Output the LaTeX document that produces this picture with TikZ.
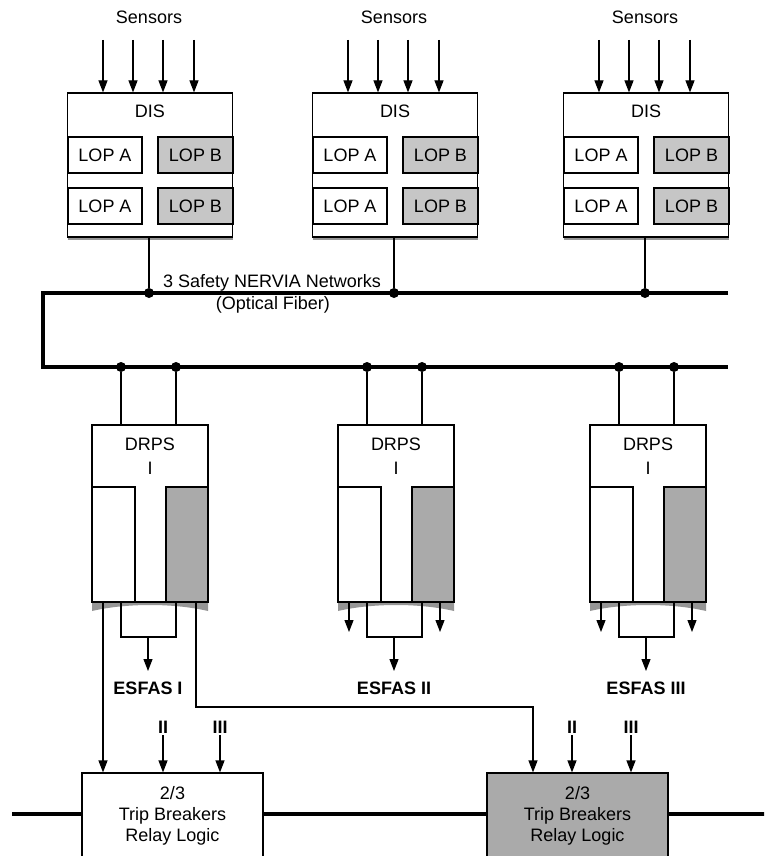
\documentclass[tikz,border=0pt]{standalone}
\usepackage{fontspec}
\setmainfont{Liberation Sans}
\usetikzlibrary{arrows.meta,calc,shadows}
\definecolor{lopgray}{RGB}{198,198,198}
\definecolor{midgray}{RGB}{170,170,170}
\definecolor{shadowgray}{RGB}{150,150,150}
\begin{document}
\begin{tikzpicture}[x=1pt,y=-1pt,
  font=\fontsize{18}{21}\selectfont,
  box/.style={draw, line width=1.2pt, fill=white, inner sep=0pt},
  disbox/.style={box, drop shadow={shadow xshift=0pt, shadow yshift=-2.5pt, fill=shadowgray, opacity=1}},
  lop/.style={box, minimum width=74pt, minimum height=36pt},
  bus/.style={line width=3.5pt},
  tbus/.style={line width=4.5pt},
  wire/.style={line width=1.2pt},
  arr/.style={wire, -{Triangle[length=12pt,width=9pt]}},
  dot/.style={circle, fill, inner sep=0pt, minimum size=10pt},
  lbl/.style={inner sep=2pt},
  blbl/.style={inner sep=2pt, font=\fontsize{18}{21}\selectfont\bfseries}
]
\clip (0,0) rectangle (764,856);
\fill[white] (0,0) rectangle (764,856);

% network buses
\coordinate (b1l) at (43,293);
\coordinate (b1r) at (728,293);
\coordinate (b2l) at (43,367);
\coordinate (b2r) at (728,367);
\draw[bus] (b1r) -- (b1l) -- (b2l) -- (b2r);
\node[lbl] (net1) at (272,283) {3 Safety NERVIA Networks};
\node[lbl] (net2) at (273,305) {(Optical Fiber)};

% DIS blocks
\foreach \n/\L in {1/67,2/312,3/563} {
  \node[lbl] (sens\n) at (\L+82,17) {Sensors};
  \node[disbox, minimum width=165pt, minimum height=144pt] (dis\n) at (\L+83,165) {};
  \node[lbl] (dislab\n) at (\L+83,111) {DIS};
  \node[lop] (laa\n) at (\L+38,155) {LOP A};
  \node[lop, fill=lopgray, minimum width=75pt] (lba\n) at (\L+128.5,155) {LOP B};
  \node[lop] (lab\n) at (\L+38,206) {LOP A};
  \node[lop, fill=lopgray, minimum width=75pt] (lbb\n) at (\L+128.5,206) {LOP B};
  \foreach \k/\dx in {1/36,2/66,3/96,4/127} {
    \coordinate (s\n\k) at (\L+\dx,40);
    \draw[arr] (s\n\k) -- (s\n\k |- dis\n.north);
  }
  \node[dot] (dn\n) at (\L+82,293) {};
  \draw[wire] (dis\n.south -| dn\n) -- (dn\n);
}

% DRPS blocks
\foreach \n/\L/\r in {1/92/I,2/338/II,3/590/III} {
  \fill[shadowgray] (\L,600) -- (\L+116,600) -- (\L+116,611) .. controls (\L+82,603) and (\L+34,603) .. (\L,611) -- cycle;
  \node[box, minimum width=116pt, minimum height=177pt] (drps\n) at (\L+58,513.5) {};
  \node[lbl] (drpslab\n) at (\L+58,444) {DRPS};
  \node[lbl] (drpsnum\n) at (\L+58,468) {I};
  \node[box, minimum width=43pt, minimum height=115pt] (dl\n) at (\L+21.5,544.5) {};
  \node[box, fill=midgray, minimum width=42pt, minimum height=115pt] (dr\n) at (\L+95,544.5) {};
  \node[dot] (da\n) at (\L+29,367) {};
  \node[dot] (db\n) at (\L+84,367) {};
  \draw[wire] (da\n) -- (da\n |- drps\n.north);
  \draw[wire] (db\n) -- (db\n |- drps\n.north);
  \coordinate (ba\n) at (\L+29,637);
  \coordinate (bb\n) at (\L+84,637);
  \draw[wire] (drps\n.south -| ba\n) -- (ba\n) -- (bb\n) -- (drps\n.south -| bb\n);
  \coordinate (bm\n) at (\L+56,637);
  \coordinate (et\n) at (\L+56,671);
  \draw[arr] (bm\n) -- (et\n);
  \node[blbl] (es\n) at (\L+56,688) {ESFAS \r};
}

% side outputs of DRPS II and III
\foreach \n/\L in {2/338,3/590} {
  \coordinate (ol\n) at (\L+11,632);
  \coordinate (or\n) at (\L+102,632);
  \draw[arr] (drps\n.south -| ol\n) -- (ol\n);
  \draw[arr] (drps\n.south -| or\n) -- (or\n);
}

% trip breaker boxes
\node[box, minimum width=181pt, minimum height=86pt] (tb1) at (172.5,816) {};
\node[box, fill=midgray, minimum width=181pt, minimum height=86pt] (tb2) at (577.5,816) {};
\node[lbl, align=center] (tb1t) at (172.5,816) {2/3\\Trip Breakers\\Relay Logic};
\node[lbl, align=center] (tb2t) at (577.5,816) {2/3\\Trip Breakers\\Relay Logic};

% bottom bus
\coordinate (tl) at (12,814);
\coordinate (tr) at (770,814);
\draw[tbus] (tl) -- (tl -| tb1.west);
\draw[tbus] (tl -| tb1.east) -- (tl -| tb2.west);
\draw[tbus] (tl -| tb2.east) -- (tr);

% DRPS I to trip breakers
\coordinate (c1) at (103,602);
\draw[arr] (c1) -- (c1 |- tb1.north);
\coordinate (c2) at (196,602);
\coordinate (c3) at (196,707);
\coordinate (c4) at (533,707);
\draw[arr] (c2) -- (c3) -- (c4) -- (c4 |- tb2.north);

% II / III inputs
\foreach \t/\xa/\xb in {1/163/220,2/572/631} {
  \node[blbl] (two\t) at (\xa,727) {II};
  \node[blbl] (three\t) at (\xb,727) {III};
  \draw[arr] (two\t) -- (two\t |- tb\t.north);
  \draw[arr] (three\t) -- (three\t |- tb\t.north);
}
\end{tikzpicture}
\end{document}
